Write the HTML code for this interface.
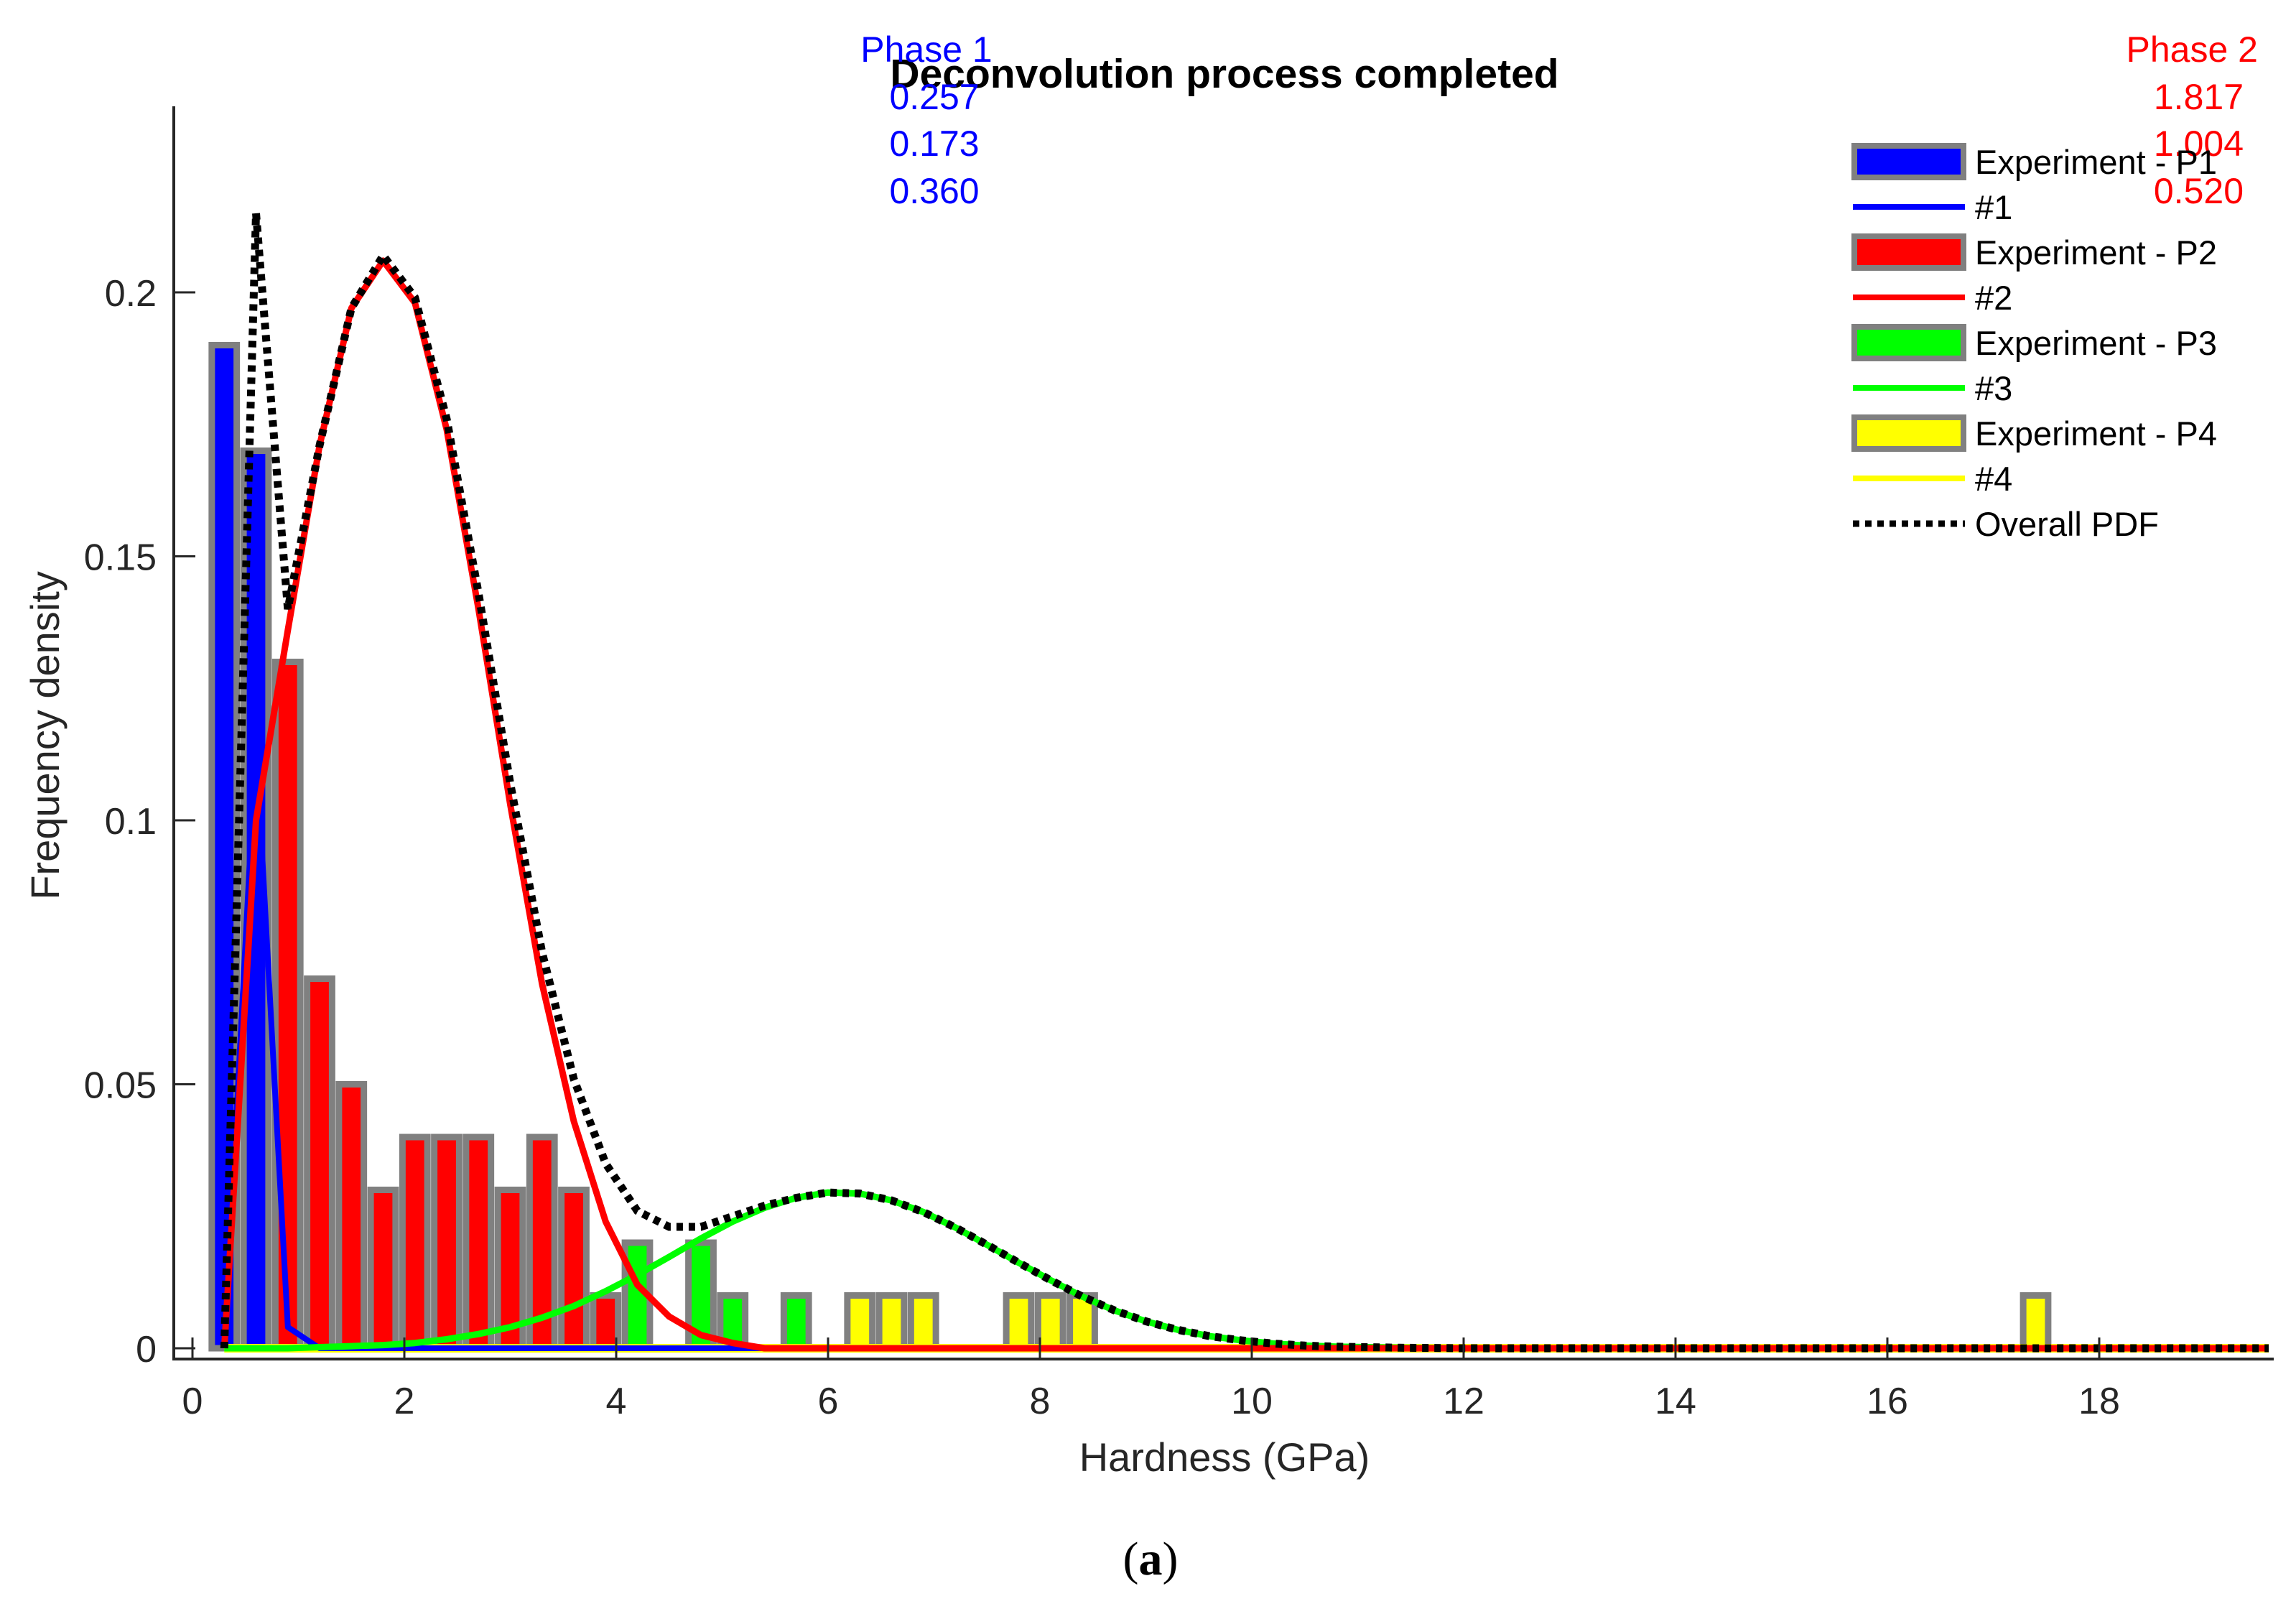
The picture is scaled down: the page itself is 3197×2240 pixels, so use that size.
<!DOCTYPE html>
<html><head><meta charset="utf-8"><style>
html,body{margin:0;padding:0;background:#fff;}
svg{display:block;font-family:"Liberation Sans",Arial,sans-serif;}
</style></head><body>
<svg id="chart" width="3197" height="2240" viewBox="0 0 3197 2240" xmlns="http://www.w3.org/2000/svg">
<g id="bars"></g>
<g id="lines"></g>
<g id="axes"></g>
<text x="1705" y="122" text-anchor="middle" font-size="57" font-weight="bold" fill="#000">Deconvolution process completed</text>
<g fill="#0000ff" font-size="50" text-anchor="middle">
<text x="1290" y="86">Phase 1</text><text x="1301" y="152">0.257</text><text x="1301" y="217">0.173</text><text x="1301" y="283">0.360</text>
</g>
<g fill="#ff0000" font-size="50" text-anchor="end">
<text x="3144" y="86">Phase 2</text><text x="3124" y="152">1.817</text><text x="3124" y="217">1.004</text><text x="3124" y="283">0.520</text>
</g>
<g id="legend"></g>
<text x="1705" y="2048" text-anchor="middle" font-size="56" fill="#262626">Hardness (GPa)</text>
<text transform="translate(82,1024) rotate(-90)" text-anchor="middle" font-size="56" fill="#262626">Frequency density</text>
<text x="1602" y="2192" text-anchor="middle" font-size="66" font-family="Liberation Serif, serif">(<tspan font-weight="bold">a</tspan>)</text>
</svg>
<script>
// bin centres (GPa), bar heights, phase of each bar
const binCenters = [0.3,0.6,0.9,1.2,1.5,1.8,2.1,2.4,2.7,3.0,3.3,3.6,3.9,4.2,4.8,5.1,5.7,6.3,6.6,6.9,7.8,8.1,8.4,17.4];
const binValues  = [0.19,0.17,0.13,0.07,0.05,0.03,0.04,0.04,0.04,0.03,0.04,0.03,0.01,0.02,0.02,0.01,0.01,0.01,0.01,0.01,0.01,0.01,0.01,0.01];
const binPhase   = [1,1,2,2,2,2,2,2,2,2,2,2,2,3,3,3,3,4,4,4,4,4,4,4];
// curve sample positions and values
const curveX = [0.3,0.6,0.9,1.2,1.5,1.8,2.1,2.4,2.7,3.0,3.3,3.6,3.9,4.2,4.5,4.8,5.1,5.4,5.7,6.0,6.3,6.6,6.9,7.2,7.5,7.8,8.1,8.4,8.7,9.0,9.3,9.6,9.9,10.2,10.5,10.8,11.1,11.4,12.0,13.0,14.0,15.0,16.0,17.0,18.0,19.0,19.6];
const pdf1 = [0,0.115,0.004,0,0,0,0,0,0,0,0,0,0,0,0,0,0,0,0,0,0,0,0,0,0,0,0,0,0,0,0,0,0,0,0,0,0,0,0,0,0,0,0,0,0,0,0];
const pdf2 = [0,0.100,0.136,0.171,0.197,0.206,0.198,0.174,0.140,0.103,0.069,0.043,0.024,0.012,0.006,0.0025,0.001,0,0,0,0,0,0,0,0,0,0,0,0,0,0,0,0,0,0,0,0,0,0,0,0,0,0,0,0,0,0];
const pdf3 = [0,0,0,0.0002,0.0004,0.0006,0.001,0.0017,0.0027,0.004,0.0058,0.008,0.0108,0.0139,0.0173,0.0208,0.024,0.0266,0.0285,0.0295,0.0293,0.028,0.0258,0.0229,0.0196,0.0162,0.0129,0.0098,0.0072,0.0051,0.0035,0.0023,0.0015,0.0009,0.0005,0.0003,0.0002,0.0001,0,0,0,0,0,0,0,0,0];
const pdf4 = [0,0,0,0,0,0,0,0,0,0,0,0,0,0,0,0,0,0,0,0,0,0,0,0,0,0,0,0,0,0,0,0,0,0,0,0,0,0,0,0,0,0,0,0,0,0,0];
const pdfAll = [0,0.215,0.140,0.171,0.197,0.207,0.199,0.176,0.143,0.107,0.075,0.051,0.035,0.026,0.023,0.023,0.025,0.027,0.0285,0.0295,0.0293,0.028,0.0258,0.0229,0.0196,0.0162,0.0129,0.0098,0.0072,0.0051,0.0035,0.0023,0.0015,0.0009,0.0005,0.0003,0.0002,0.0001,0,0,0,0,0,0,0,0,0];
const xTicks = [0,2,4,6,8,10,12,14,16,18];
const yTicks = [0,0.05,0.1,0.15,0.2];
const yTickLabels = ["0","0.05","0.1","0.15","0.2"];

const NS = "http://www.w3.org/2000/svg";
const X0 = 268, XS = 147.5, Y0 = 1877, YS = 7350;
const sx = v => X0 + v * XS;
const sy = v => Y0 - v * YS;
const colors = {1:"#0000ff",2:"#ff0000",3:"#00ff00",4:"#ffff00"};
function mk(tag, attrs, parent){const e=document.createElementNS(NS,tag);for(const k in attrs)e.setAttribute(k,attrs[k]);parent.appendChild(e);return e;}

const bars = document.getElementById('bars');
binCenters.forEach((c,i)=>{
  const w = 0.29*XS;
  const r = mk('rect',{x:sx(c)-w/2+4,y:sy(binValues[i]),width:w-8,height:Y0-sy(binValues[i]),fill:colors[binPhase[i]],stroke:'#808080','stroke-width':9},bars);
  
  
});

const lines = document.getElementById('lines');
function path(arr){return arr.map((v,i)=>(i?'L':'M')+sx(curveX[i]).toFixed(1)+' '+sy(v).toFixed(1)).join(' ');}
[[pdf4,'#ffff00',12,'pdf-4-line'],[pdf1,'#0000ff',8,'pdf-1-line'],[pdf3,'#00ff00',9,'pdf-3-line'],[pdf2,'#ff0000',9,'pdf-2-line']].forEach(s=>{
  const p = mk('path',{d:path(s[0]),fill:'none',stroke:s[1],'stroke-width':s[2],'stroke-linejoin':'round'},lines);
  
  
});
const ov = mk('path',{d:path(pdfAll),fill:'none',stroke:'#000','stroke-width':11,'stroke-dasharray':'9 8'},lines);



const axes = document.getElementById('axes');
mk('line',{x1:242,y1:148,x2:242,y2:1894,stroke:'#262626','stroke-width':4},axes);
mk('line',{x1:240,y1:1892,x2:3166,y2:1892,stroke:'#262626','stroke-width':4},axes);
xTicks.forEach(t=>{
  mk('line',{x1:sx(t),y1:1892,x2:sx(t),y2:1862,stroke:'#262626','stroke-width':3},axes);
  const tx = mk('text',{x:sx(t),y:1968,'text-anchor':'middle','font-size':52,fill:'#262626'},axes);
  tx.textContent = t;
  
  
});
yTicks.forEach((t,i)=>{
  mk('line',{x1:242,y1:sy(t),x2:272,y2:sy(t),stroke:'#262626','stroke-width':3},axes);
  const tx = mk('text',{x:218,y:sy(t)+19,'text-anchor':'end','font-size':52,fill:'#262626'},axes);
  tx.textContent = yTickLabels[i];
  
  
});

const legend = document.getElementById('legend');
const legItems = [['patch','#0000ff','Experiment - P1'],['line','#0000ff','#1'],['patch','#ff0000','Experiment - P2'],['line','#ff0000','#2'],['patch','#00ff00','Experiment - P3'],['line','#00ff00','#3'],['patch','#ffff00','Experiment - P4'],['line','#ffff00','#4'],['dots','#000','Overall PDF']];
legItems.forEach((it,i)=>{
  const cy = 225 + i*63;
  const g = mk('g',{},legend);
  
  
  if(it[0]==='patch') mk('rect',{x:2582,y:cy-22,width:152,height:44,fill:it[1],stroke:'#808080','stroke-width':8},g);
  else if(it[0]==='line') mk('line',{x1:2580,y1:cy,x2:2736,y2:cy,stroke:it[1],'stroke-width':8},g);
  else mk('line',{x1:2580,y1:cy,x2:2736,y2:cy,stroke:'#000','stroke-width':9,'stroke-dasharray':'9 8'},g);
  const t = mk('text',{x:2750,y:cy+17,'font-size':47,fill:'#000'},g);
  t.textContent = it[2];
});
</script>
</body></html>
